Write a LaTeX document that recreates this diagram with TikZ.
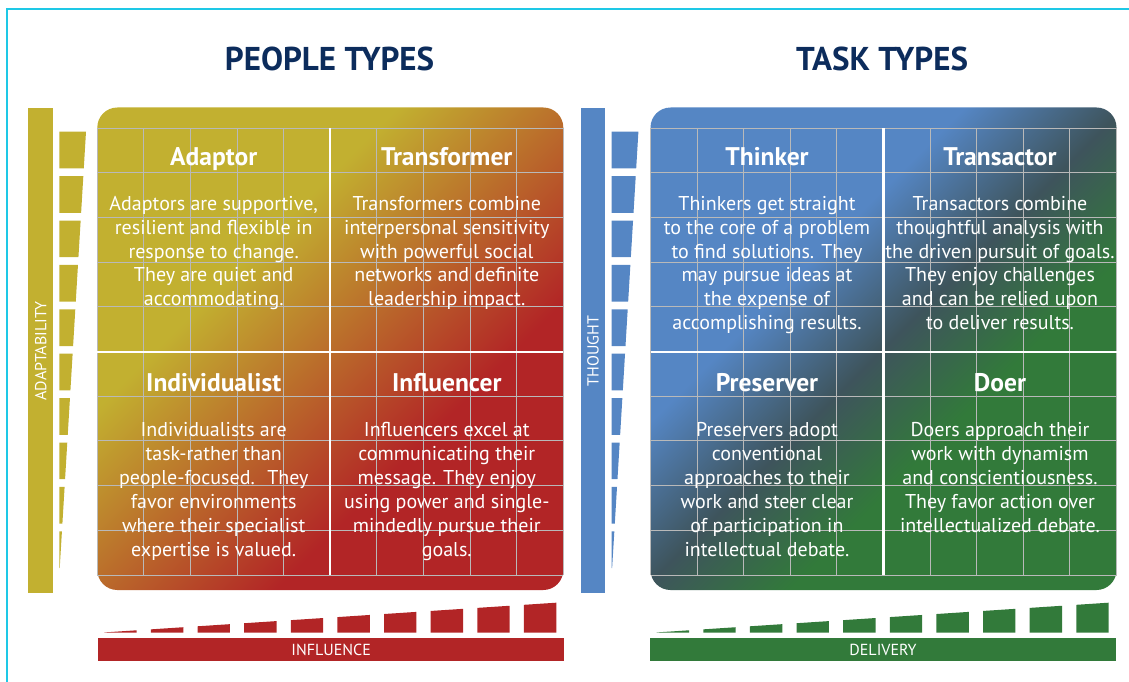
\documentclass[tikz,border=0pt]{standalone}
\usepackage{fontspec}
\setmainfont{PT Sans}
\definecolor{olv}{RGB}{194,176,48}
\definecolor{rd}{RGB}{178,37,38}
\definecolor{blu}{RGB}{85,134,196}
\definecolor{drk}{RGB}{62,84,92}
\definecolor{grn}{RGB}{50,122,58}
\definecolor{navy}{RGB}{12,44,92}
\definecolor{cyanl}{RGB}{30,200,230}
\definecolor{gridc}{RGB}{185,185,185}
\pgfdeclarehorizontalshading{peopleshade}{100bp}{color(0bp)=(olv); color(37bp)=(olv); color(64bp)=(rd); color(100bp)=(rd)}
\pgfdeclarehorizontalshading{taskshade}{100bp}{color(0bp)=(blu); color(38bp)=(blu); color(50bp)=(drk); color(61bp)=(grn); color(100bp)=(grn)}
\begin{document}
\begin{tikzpicture}[x=1pt,y=-1pt,
  bigtitle/.style={anchor=base, inner sep=0, text=navy, font=\fontsize{33}{40}\selectfont\bfseries},
  celltitle/.style={anchor=base, inner sep=0, text=white, font=\fontsize{25.5}{28}\selectfont\bfseries},
  body/.style={anchor=north, inner sep=0, align=center, text=white, font=\fontsize{20}{23.9}\selectfont},
  barlabel/.style={inner sep=0, text=white, font=\fontsize{16}{18}\selectfont},
  gridline/.style={draw=gridc, line width=1pt},
  divider/.style={draw=white, line width=2.2pt}]
\useasboundingbox (0,0) rectangle (1129,682);
% frame
\draw[cyanl, line width=2pt] (7,682) -- (7,9.5) -- (1129,9.5);
% titles
\node[bigtitle] (ptitle) at (329.5,71) {PEOPLE TYPES};
\node[bigtitle] (ttitle) at (882,71) {TASK TYPES};
% side bars
\node[barlabel, fill=olv, minimum width=485pt, minimum height=25pt, rotate=90] (adapt) at (40.8,350.8) {ADAPTABILITY};
\node[barlabel, fill=blu, minimum width=485pt, minimum height=24pt, rotate=90] (thought) at (593,350.8) {THOUGHT};
% bottom bars
\node[barlabel, fill=rd, minimum width=465.7pt, minimum height=22.4pt] (influence) at (331.2,649.5) {INFLUENCE};
\node[barlabel, fill=grn, minimum width=466pt, minimum height=22.4pt] (delivery) at (883,649.5) {DELIVERY};
% vertical wedges
\foreach \k in {0,...,9}{
  \pgfmathsetmacro\ya{131.7+44.4*\k}
  \pgfmathsetmacro\yb{\ya+36.7}
  \pgfmathsetmacro\xa{59.3+26.7*(575-\ya)/443.3}
  \pgfmathsetmacro\xb{59.3+26.7*(575-\yb)/443.3}
  \fill[olv] (59.3,\ya) -- (\xa,\ya) -- (\xb,\yb) -- (59.3,\yb) -- cycle;
  \fill[blu] (611.7,\ya) -- ({\xa+552.4},\ya) -- ({\xb+552.4},\yb) -- (611.7,\yb) -- cycle;
}
% horizontal wedges
\foreach \k in {0,...,9}{
  \pgfmathsetmacro\xa{104.3+46.62*\k}
  \pgfmathsetmacro\xb{\xa+32.4}
  \pgfmathsetmacro\ya{632.7-30*(\xa-100)/456}
  \pgfmathsetmacro\yb{632.7-30*(\xb-100)/456}
  \fill[rd] (\xa,632.7) -- (\xa,\ya) -- (\xb,\yb) -- (\xb,632.7) -- cycle;
  \fill[grn] ({\xa+552.4},632.7) -- ({\xa+552.4},\ya) -- ({\xb+552.4},\yb) -- ({\xb+552.4},632.7) -- cycle;
}
% boxes
\shade[shading=peopleshade, shading angle=-45, rounded corners=20pt] (97.3,107.5) rectangle (563.3,590);
\shade[shading=taskshade, shading angle=-45, rounded corners=20pt] (650.5,107.5) rectangle (1116.5,590);
% grids
\foreach \i in {0,...,10}{
  \draw[gridline] ({97.3+46.6*\i},128.3) -- ({97.3+46.6*\i},575);
  \draw[gridline] ({650.5+46.6*\i},128.3) -- ({650.5+46.6*\i},575);
  \draw[gridline] (97.3,{128.3+44.67*\i}) -- (563.3,{128.3+44.67*\i});
  \draw[gridline] (650.5,{128.3+44.67*\i}) -- (1116.5,{128.3+44.67*\i});
}
\draw[divider] (330.3,128.3) -- (330.3,575);
\draw[divider] (97.3,351.7) -- (563.3,351.7);
\draw[divider] (883.5,128.3) -- (883.5,575);
\draw[divider] (650.5,351.7) -- (1116.5,351.7);
% people texts
\node[celltitle] (adaptor) at (213.7,165.7) {Adaptor};
\node[body] (adaptortxt) at (213.7,193.3) {\strut Adaptors are supportive,\\resilient and flexible in\\response to change.\\They are quiet and\\accommodating.};
\node[celltitle] (transformer) at (446.8,165.7) {Transformer};
\node[body] (transformertxt) at (446.8,193.3) {\strut Transformers combine\\interpersonal sensitivity\\with powerful social\\networks and definite\\leadership impact.};
\node[celltitle] (individualist) at (213.7,391.7) {Individualist};
\node[body] (individualisttxt) at (213.7,420) {\strut Individualists are\\task-rather than\\people-focused.~ They\\favor environments\\where their specialist\\expertise is valued.};
\node[celltitle] (influencer) at (446.8,391.7) {Influencer};
\node[body] (influencertxt) at (446.8,420) {\strut Influencers excel at\\communicating their\\message. They enjoy\\using power and single-\\mindedly pursue their\\goals.};
% task texts
\node[celltitle] (thinker) at (767,165.7) {Thinker};
\node[body] (thinkertxt) at (767,193.3) {\strut Thinkers get straight\\to the core of a problem\\to find solutions. They\\may pursue ideas at\\the expense of\\accomplishing results.};
\node[celltitle] (transactor) at (1000,165.7) {Transactor};
\node[body] (transactortxt) at (1000,193.3) {\strut Transactors combine\\thoughtful analysis with\\the driven pursuit of goals.\\They enjoy challenges\\and can be relied upon\\to deliver results.};
\node[celltitle] (preserver) at (767,391.7) {Preserver};
\node[body] (preservertxt) at (767,420) {\strut Preservers adopt\\conventional\\approaches to their\\work and steer clear\\of participation in\\intellectual debate.};
\node[celltitle] (doer) at (1000,391.7) {Doer};
\node[body] (doertxt) at (1000,420) {\strut Doers approach their\\work with dynamism\\and conscientiousness.\\They favor action over\\intellectualized debate.};
\end{tikzpicture}
\end{document}
